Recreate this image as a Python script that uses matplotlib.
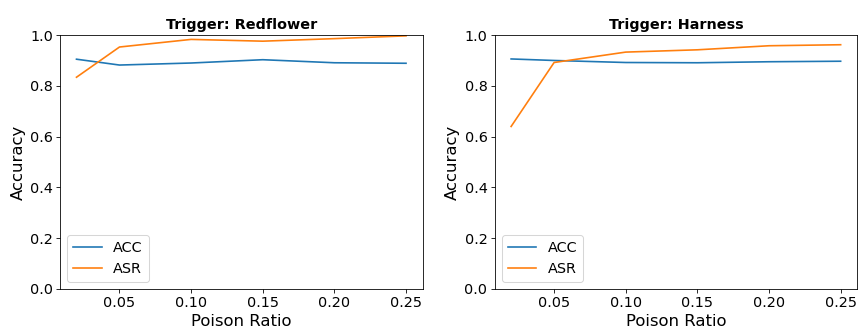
import matplotlib.pyplot as plt

ratios = [0.02, 0.05, 0.10, 0.15, 0.20, 0.25]

redflower_acc = [0.905, 0.882, 0.890, 0.903, 0.891, 0.889]
redflower_asr = [0.834, 0.953, 0.983, 0.976, 0.986, 0.997]

harness_acc = [0.906, 0.900, 0.892, 0.891, 0.895, 0.897]
harness_asr = [0.640, 0.892, 0.933, 0.942, 0.958, 0.962]

panels = [
    ("Trigger: Redflower", redflower_acc, redflower_asr),
    ("Trigger: Harness", harness_acc, harness_asr),
]

# drawn at a small dpi so that 14pt text lands at the reference's pixel size
fig, axes = plt.subplots(1, 2, figsize=(861 / 74, 331 / 74), dpi=74)
fig.subplots_adjust(left=0.0697, right=0.9955, bottom=0.127, top=0.894, wspace=0.199)

for ax, (title, acc, asr) in zip(axes, panels):
    ax.plot(ratios, acc, label="ACC", linewidth=1.6)
    ax.plot(ratios, asr, label="ASR", linewidth=1.6)
    ax.set_title(title, fontsize=14, fontweight="bold")
    ax.set_xlabel("Poison Ratio", fontsize=16)
    ax.set_ylabel("Accuracy", fontsize=16)
    ax.set_ylim(0, 1.0)
    ax.set_xticks([0.05, 0.10, 0.15, 0.20, 0.25])
    ax.tick_params(labelsize=14)
    ax.legend(loc="lower left", fontsize=14)

plt.savefig("out.png")
